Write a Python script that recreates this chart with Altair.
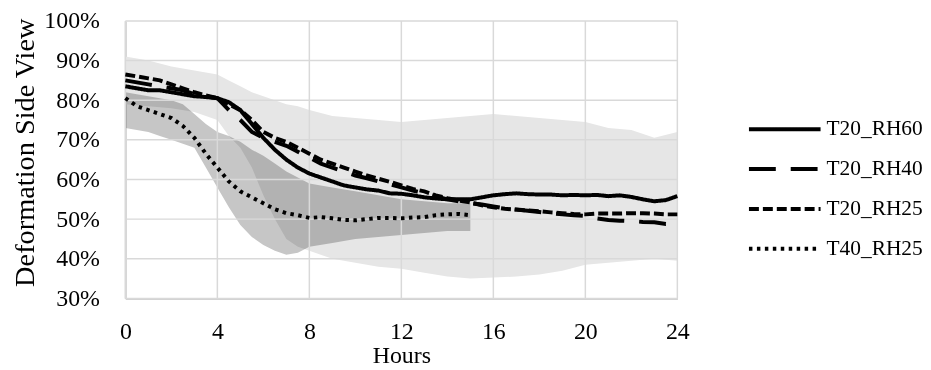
import altair as alt
import pandas as pd

FONT = "Liberation Serif"

series_names = ["T20_RH60", "T20_RH40", "T20_RH25", "T40_RH25"]
dash_styles = [[1, 0], [27, 15], [10, 4], [3.5, 4.5]]

x_ticks = [0, 4, 8, 12, 16, 20, 24]
y_ticks = [0.3, 0.4, 0.5, 0.6, 0.7, 0.8, 0.9, 1.0]

hours = [0, 0.5, 1, 1.5, 2, 2.5, 3, 3.5, 4, 4.5, 5, 5.5, 6, 6.5, 7, 7.5, 8, 8.5,
         9, 9.5, 10, 10.5, 11, 11.5, 12, 12.5, 13, 13.5, 14, 14.5, 15, 15.5, 16,
         16.5, 17, 17.5, 18, 18.5, 19, 19.5, 20, 20.5, 21, 21.5, 22, 22.5, 23,
         23.5, 24]

t20_rh60 = [83.5, 83, 82.5, 82.5, 82, 81.5, 81, 80.8, 80.5, 79.5, 77.5, 74, 70.5,
            67.5, 65, 63, 61.5, 60.5, 59.5, 58.5, 58, 57.5, 57.2, 56.5, 56.4, 56,
            55.5, 55.2, 55, 55, 55, 55.5, 56, 56.3, 56.5, 56.3, 56.2, 56.2, 56,
            56.1, 56, 56.1, 55.8, 56, 55.6, 55, 54.5, 54.8, 55.8]

t20_rh40 = [85, 84.5, 84, 83.5, 83, 82.5, 81.5, 81, 80.5, 77.5, 75, 72, 70.5,
            69.5, 68.5, 67, 65.5, 64, 63, 62, 61, 60.3, 59.5, 58.8, 58, 57.2,
            56.5, 55.8, 55, 54.5, 54, 53.7, 53.2, 52.7, 52.4, 52.1, 51.8, 51.5,
            51.2, 51, 50.8, 50.2, 49.8, 49.6, 49.5, 49.3, 49.2, 48.8, 49]

t20_rh25 = [86.5, 86, 85.5, 85, 84, 83, 82, 81.2, 80.5, 79, 77.5, 75, 72, 70.5,
            69.5, 68, 66.5, 65, 64, 63, 62, 61, 60.2, 59.4, 58.5, 57.6, 57, 56,
            55.3, 54.7, 54.2, 53.5, 53, 52.6, 52.4, 52.2, 52, 51.7, 51.5, 51.3,
            51.2, 51.4, 51.4, 51.4, 51.5, 51.5, 51.4, 51.2, 51.2]

t40_hours = [0, 0.5, 1, 1.5, 2, 2.5, 3, 3.5, 4, 4.5, 5, 5.5, 6, 6.5, 7, 7.5, 8,
             8.5, 9, 9.5, 10, 10.5, 11, 11.5, 12, 12.5, 13, 13.5, 14, 14.5, 15]
t40_rh25 = [80.5, 78.5, 77.5, 76.5, 75.5, 73.5, 70.5, 66.5, 63, 59.5, 57, 55.5,
            54, 52.5, 51.5, 51, 50.3, 50.5, 50.2, 49.8, 49.7, 50, 50.3, 50.3,
            50.2, 50.4, 50.5, 51, 51.2, 51.3, 51]

# range band of the T20 tests
light_hours = [0, 1, 2, 3, 4, 4.5, 5, 5.5, 6, 6.5, 7, 7.5, 8, 9, 10, 11, 12, 13,
               14, 15, 16, 17, 18, 19, 20, 21, 22, 23, 24]
light_upper = [91, 90, 88.5, 87.5, 86.5, 85, 83.5, 82, 81, 80, 79, 78.5, 77.5,
               76, 75.5, 75, 74.5, 75, 75.5, 76, 76.5, 76, 75.5, 75, 74.5, 73,
               72.5, 70.5, 72]
light_lower = [79, 78.5, 78, 77, 75, 71, 68, 63, 56, 50, 45, 43, 42, 40, 39, 38,
               37.5, 36.5, 35.5, 35, 35.3, 35.5, 36, 37, 38.5, 39, 39.5, 40, 39.5]

# range band of the T40 test
t40b_hours = [0, 0.5, 1, 1.5, 2, 2.5, 3, 3.5, 4, 4.5, 5, 5.5, 6, 6.5, 7, 7.5, 8,
              9, 10, 11, 12, 13, 14, 15]
t40_upper = [82, 81.5, 81, 80.5, 80, 79, 76.5, 74, 72, 71, 69.5, 67.5, 66, 64,
             62, 60.5, 59, 58, 57, 56, 55, 54.5, 54, 54]
t40_lower = [73, 72.5, 72, 71, 70, 69, 68, 63, 58, 53, 48.5, 45.5, 43.5, 42, 41,
             41.5, 43, 44, 45, 45.5, 46, 46.5, 47, 47]

rows = []
for name, hrs, vals in [("T20_RH60", hours, t20_rh60),
                        ("T20_RH40", hours, t20_rh40),
                        ("T20_RH25", hours, t20_rh25),
                        ("T40_RH25", t40_hours, t40_rh25)]:
    for h, v in zip(hrs, vals):
        rows.append({"hour": h, "value": v / 100, "series": name})
line_df = pd.DataFrame(rows)

light_df = pd.DataFrame({"hour": light_hours,
                         "value": [v / 100 for v in light_lower],
                         "hi": [v / 100 for v in light_upper]})
t40b_df = pd.DataFrame({"hour": t40b_hours,
                        "value": [v / 100 for v in t40_lower],
                        "hi": [v / 100 for v in t40_upper]})
xgrid_df = pd.DataFrame({"hour": x_ticks})
ygrid_df = pd.DataFrame({"value": y_ticks})

x_scale = alt.Scale(domain=[0, 24], nice=False)
y_scale = alt.Scale(domain=[0.3, 1.0], nice=False, zero=False)

x_axis = alt.Axis(values=x_ticks, grid=False, ticks=False, tickSize=0,
                  labelFlush=False, labelPadding=21, titlePadding=0,
                  labelFontSize=24, titleFontSize=24,
                  domainColor="#d0d0d0", domainWidth=2)
y_axis = alt.Axis(values=y_ticks, format="%", grid=False, ticks=False,
                  tickSize=0, labelPadding=26, titlePadding=4,
                  labelFontSize=24, titleFontSize=28.5, titleY=132,
                  domainColor="#d0d0d0", domainWidth=2)

X = alt.X("hour:Q", scale=x_scale, axis=x_axis, title="Hours")
Y = alt.Y("value:Q", scale=y_scale, axis=y_axis, title="Deformation Side View")

light = alt.Chart(light_df).mark_area(color="#e6e6e6").encode(
    x=X, y=Y, y2="hi:Q")

t40band = alt.Chart(t40b_df).mark_area(color="#c6c6c6", blend="multiply").encode(
    x=X, y=Y, y2="hi:Q")

xgrid = alt.Chart(xgrid_df).mark_rule(color="#d9d9d9", strokeWidth=1.5).encode(x=X)
ygrid = alt.Chart(ygrid_df).mark_rule(color="#d9d9d9", strokeWidth=1.5).encode(y=Y)

lines = alt.Chart(line_df).mark_line(color="black", strokeWidth=4).encode(
    x=X, y=Y,
    strokeDash=alt.StrokeDash(
        "series:N",
        scale=alt.Scale(domain=series_names, range=dash_styles),
        legend=alt.Legend(title=None, orient="none", legendX=625, legendY=96,
                          symbolType="stroke", symbolSize=5184,
                          symbolStrokeWidth=4, symbolStrokeColor="black",
                          labelFont=FONT, labelFontSize=21.5, labelColor="black",
                          labelOffset=4, clipHeight=26, rowPadding=14)),
)

chart = alt.layer(light, t40band, xgrid, ygrid, lines).properties(
    width=555, height=279,
    padding={"left": 3, "top": 0, "right": 0, "bottom": 2},
).configure_view(stroke=None).configure_axis(
    labelFont=FONT, labelColor="black",
    titleFont=FONT, titleFontWeight="normal", titleColor="black",
)

chart.save("out.html", embed_options={"renderer": "svg", "actions": False})
